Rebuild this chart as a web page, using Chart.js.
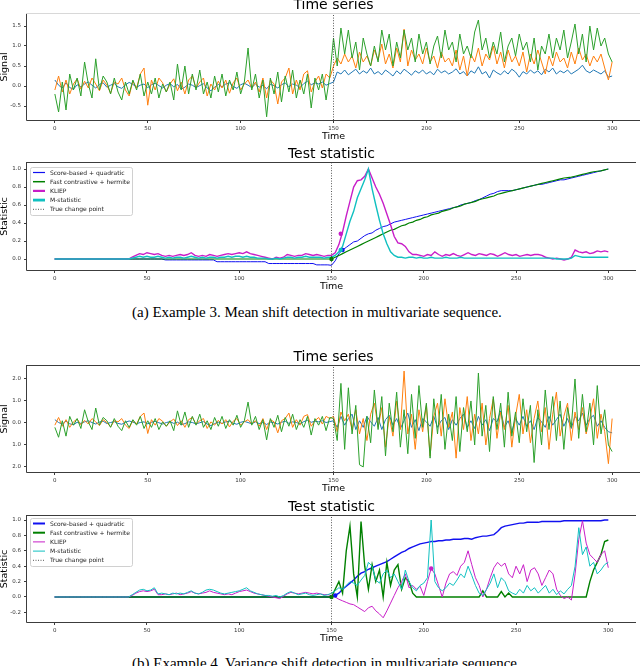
<!DOCTYPE html>
<html>
<head>
<meta charset="utf-8">
<script src="https://cdn.jsdelivr.net/npm/chart.js@4.4.0/dist/chart.umd.min.js"></script>
<style>
  body { margin: 0; width: 640px; height: 666px; overflow: hidden; background: #fff; position: relative; }
  canvas { position: absolute; left: 0; }
  .caption { position: absolute; left: 132px; font-family: "Liberation Serif", "Times New Roman", serif;
             font-size: 15px; line-height: 15px; white-space: nowrap; color: #000; }
</style>
</head>
<body>
<canvas id="meanSignal" width="640" height="150" style="top:-8px"></canvas>
<canvas id="meanStat" width="640" height="151" style="top:141px"></canvas>
<div class="caption" style="top:305px">(a) Example 3. Mean shift detection in multivariate sequence.</div>
<canvas id="varSignal" width="640" height="150" style="top:344px"></canvas>
<canvas id="varStat" width="640" height="150" style="top:494px"></canvas>
<div class="caption" style="top:656px">(b) Example 4. Variance shift detection in multivariate sequence.</div>
<script>
// time grid: every 2nd step, 0..300
const times = Array.from({length: 151}, (_, i) => i * 2);
const changePoint = 150;
const timeTicks = [0, 50, 100, 150, 200, 250, 300];
const signalTicksA = [-0.5, 0, 0.5, 1, 1.5];
const statTicksA = [0, 0.2, 0.4, 0.6, 0.8, 1];
const signalTicksB = [-2, -1, 0, 1, 2];
const statTicksB = [-0.2, 0, 0.2, 0.4, 0.6, 0.8, 1];

// signals before the change (t = 0..148), same in both examples
const blue0 = [0.15,0.02,-0.05,0.08,-0.04,-0.08,0.03,-0.02,0.05,0.1,
  0.02,-0.05,0.04,0.08,-0.03,0.02,0.06,-0.02,-0.06,0.03,
  0.09,0.04,-0.03,0.02,0.05,-0.04,0.03,0.07,0.01,-0.05,
  0.02,0.06,-0.02,0.04,-0.08,-0.03,0.05,0.02,-0.04,0.01,
  0.06,-0.05,-0.12,-0.03,0.04,-0.02,0.05,0.08,-0.01,-0.06,
  0.03,0.07,0.02,-0.04,0.05,-0.03,0.02,-0.07,0.04,0.01,
  -0.05,0.03,0.08,-0.02,0.05,0.02,-0.04,0.06,0.12,0.03,
  0.08,0.05,0.1,0.02,0.06];
const orange0 = [-0.1,0.25,-0.15,0.15,-0.2,0.05,0.18,-0.08,0.12,-0.05,
  0.2,0.05,-0.12,0.15,0.02,-0.18,0.1,0.05,0.2,-0.1,
  -0.25,0.12,-0.05,0.3,0.45,-0.48,0.15,-0.1,0.2,0.08,
  -0.15,0.05,0.18,-0.12,0.1,-0.2,0.15,0.25,-0.05,0.1,
  0.2,-0.25,0.05,-0.1,0.12,-0.05,0.15,-0.18,0.08,0.2,
  -0.1,0.05,0.15,-0.05,0.1,-0.15,0.2,-0.3,0.15,0.05,
  -0.45,0.1,0.2,0.45,-0.2,0.15,-0.1,0.3,0.38,-0.15,
  0.1,0.25,-0.05,0.3,0.2];
const green0 = [-0.2,-0.65,0.1,-0.6,0.3,-0.1,0.2,-0.25,0.6,0.05,
  -0.3,0.68,-0.1,0.25,0.1,-0.2,0.2,-0.15,-0.35,0.1,
  -0.2,0.15,-0.1,0.3,-0.25,0.1,-0.2,0.2,-0.3,0.05,
  -0.15,0.1,-0.35,0.55,-0.1,0.5,-0.2,0.3,-0.1,0.4,
  -0.2,0.1,-0.3,0.25,-0.15,0.3,-0.25,0.15,-0.1,0.35,
  -0.2,0.1,0.95,-0.1,0.3,-0.3,0.15,-0.77,0.2,-0.2,
  0.35,-0.4,0.25,-0.15,0.4,-0.3,0.15,-0.2,0.3,-0.55,
  0.2,-0.1,0.3,-0.35,0.25];

// example 3 (mean shift), t = 150..300
const meanBluePost = [0.1,0.35,0.3,0.4,0.28,0.35,0.42,0.3,0.38,0.32,
  0.45,0.3,0.36,0.28,0.4,0.33,0.25,0.38,0.3,0.42,
  0.35,0.27,0.38,0.32,0.4,0.3,0.36,0.28,0.42,0.33,
  0.38,0.3,0.35,0.43,0.3,0.36,0.25,0.38,0.32,0.48,
  0.3,0.36,0.2,0.4,0.33,0.28,0.38,0.3,0.42,0.35,
  0.22,0.36,0.3,0.4,0.32,0.38,0.28,0.42,0.35,0.45,
  0.3,0.38,0.33,0.4,0.3,0.36,0.42,0.52,0.38,0.33,
  0.4,0.35,0.3,0.38,0.22,0.25];
const meanOrangePost = [0.5,0.7,0.55,0.8,0.6,0.75,0.45,0.85,0.6,0.75,
  0.5,0.9,0.65,1.05,0.55,0.8,0.45,0.95,0.6,1.42,
  0.5,0.9,0.65,0.8,0.55,0.95,0.6,0.75,0.45,0.85,
  0.6,0.7,0.5,0.9,0.4,0.75,0.25,0.8,0.6,0.95,
  0.5,0.8,0.65,1.0,0.55,0.85,0.45,0.9,0.6,0.75,
  0.5,0.85,0.35,0.8,0.55,0.9,0.6,0.3,0.75,0.5,
  0.85,0.6,0.7,0.45,0.85,0.55,0.95,0.65,0.8,0.5,
  0.75,0.6,0.8,0.45,0.15,0.6];
const meanGreenPost = [1.2,0.5,1.45,0.8,1.4,0.7,1.1,0.4,1.2,0.8,
  0.5,1.0,0.6,1.4,0.9,1.3,0.5,1.1,0.7,1.4,
  0.9,1.2,0.6,1.3,0.8,1.1,0.55,1.0,1.25,0.7,
  1.4,0.9,1.1,0.6,1.3,0.8,1.0,0.7,1.35,1.65,
  0.9,1.2,0.7,1.1,0.8,1.35,0.6,1.0,1.2,0.75,
  1.3,0.9,1.1,0.6,1.2,0.4,1.0,0.8,1.3,0.7,
  1.2,0.9,1.4,0.7,1.1,1.55,0.8,1.3,0.6,1.5,
  0.9,1.45,1.0,1.2,0.8,0.6];

// example 4 (variance shift), t = 150..300
const varBluePost = [0.1,-0.2,0.3,-0.1,0.2,0.4,-0.3,0.1,-0.2,0.3,
  0.05,-0.15,0.25,-0.3,0.15,0.35,-0.1,0.2,-0.25,0.1,
  0.45,-0.2,0.15,-0.35,0.2,0.05,-0.15,0.3,-0.2,0.1,
  0.25,-0.3,0.15,-0.1,0.2,0.4,-0.2,0.1,-0.25,0.3,
  -0.1,0.15,-0.35,0.2,0.05,0.55,-0.2,0.1,-0.4,0.2,
  -0.1,0.3,-0.15,0.1,-0.3,0.25,0.05,-0.2,0.3,-0.1,
  0.15,0.4,-0.15,0.2,-0.25,0.3,0.1,0.45,-0.1,0.2,
  0.35,-0.15,0.1,-0.2,-0.4,-0.45];
const varOrangePost = [0.3,-0.4,0.5,0.1,0.4,-0.3,0.6,-0.5,0.2,-0.8,
  0.4,0.9,-0.2,0.7,-1.1,0.3,-0.6,1.0,-0.3,2.36,
  -0.5,0.4,-1.2,0.6,-0.4,0.8,-1.5,0.3,0.9,-0.6,
  1.1,-0.2,0.5,-1.6,0.7,-0.3,1.2,-0.8,0.4,-0.5,
  0.9,-1.0,0.2,1.1,-0.7,0.5,-0.3,0.8,-1.1,0.3,
  1.3,-0.5,0.6,-0.9,0.2,1.0,-0.4,0.7,-1.2,0.4,
  1.4,-0.6,0.3,0.9,-0.8,0.5,-0.3,0.7,-0.5,0.2,
  1.1,-0.7,0.4,-0.4,-1.85,0.2];
const varGreenPost = [0.2,-0.8,1.8,-1.2,1.6,-0.5,0.8,-1.9,-2.0,0.3,
  -0.9,1.5,-0.3,1.2,-1.5,0.9,-0.4,1.4,-1.1,0.6,
  -1.4,1.3,-0.7,1.7,-0.2,0.9,-1.6,1.1,-0.5,1.3,
  -1.2,0.4,-0.8,1.2,-1.3,0.7,-0.4,1.0,-1.0,2.27,
  -0.6,0.8,-1.3,1.2,-0.3,0.9,-1.1,1.4,-0.6,0.5,
  -0.9,1.1,-0.4,0.8,-1.8,0.6,-1.0,1.5,-0.3,1.2,
  -0.8,1.0,-1.2,0.7,-0.2,2.0,-0.7,1.3,-0.4,0.9,
  -1.0,1.7,-0.5,0.6,-1.0,-1.3];

// test statistics, example 3 (t = 0..300)
const scoreA = [0,0,0,0,0,0,0,0,0,0, 0,0,0,0,0,0,0,0,0,0, 0,0,0,0,0,0,0,0,0,0,
  -0.01,-0.01,-0.01,-0.01,-0.01,-0.01,-0.01,-0.01,-0.01,-0.01,-0.01,-0.01,-0.01,-0.01,
  -0.03,-0.03,-0.03,-0.03,-0.03,-0.03,-0.03,-0.03,-0.03,-0.03,-0.03,-0.03,-0.03,-0.03,
  -0.05,-0.05,-0.05,-0.05,-0.05,-0.05,-0.05,-0.05,-0.05,-0.05,-0.05,-0.05,-0.05,
  -0.065,-0.065,-0.065,-0.065,
  -0.07,-0.02,0.06,0.1,0.13,0.16,0.19,0.2,0.23,0.26,
  0.28,0.29,0.32,0.34,0.36,0.37,0.39,0.41,0.42,0.43,
  0.44,0.45,0.46,0.47,0.48,0.49,0.5,0.51,0.52,0.53,
  0.54,0.55,0.56,0.57,0.58,0.6,0.61,0.62,0.63,0.65,
  0.66,0.68,0.7,0.72,0.73,0.75,0.76,0.76,0.76,0.76,
  0.77,0.78,0.79,0.8,0.81,0.82,0.83,0.83,0.84,0.85,
  0.86,0.87,0.88,0.88,0.89,0.9,0.91,0.92,0.93,0.94,
  0.95,0.96,0.97,0.98,0.99,1.0];
const contrastA = [0,0,0,0,0,0,0,0,0,0, 0,0,0,0,0,0,0,0,0,0, 0,0,0,0,0,0,0,0,0,0,
  0,0,0,0,0,0,0,0,0,0, 0,0,0,0,0,0,0,0,0,0, 0,0,0,0,0,0,0,0,0,0, 0,0,0,0,0,0,0,0,0,0, 0,0,0,0,0,
  0,0.02,0.04,0.06,0.08,0.1,0.12,0.14,0.16,0.18,
  0.2,0.22,0.24,0.26,0.28,0.3,0.32,0.33,0.35,0.37,
  0.38,0.4,0.41,0.43,0.44,0.46,0.47,0.49,0.5,0.51,
  0.53,0.54,0.55,0.57,0.58,0.59,0.61,0.62,0.63,0.64,
  0.66,0.67,0.68,0.69,0.7,0.72,0.73,0.74,0.75,0.76,
  0.77,0.78,0.79,0.8,0.81,0.82,0.83,0.84,0.85,0.86,
  0.87,0.88,0.89,0.9,0.905,0.91,0.92,0.93,0.94,0.95,
  0.96,0.97,0.975,0.98,0.99,1.0];
const kliepA = [0,0,0,0,0,0,0,0,0,0, 0,0,0,0,0,0,0,0,0,0, 0,
  0.02,0.04,0.06,0.05,0.07,0.06,0.05,0.06,0.04,0.03,
  0.04,0.03,0.04,0.05,0.04,0.05,0.07,0.04,0.03,0.04,
  0.03,0.05,0.04,0.03,0.04,0.05,0.06,0.05,0.06,0.07,
  0.06,0.08,0.06,0.05,0.04,0.03,0.02,0.01,0,0.02,
  0.01,0.02,0.05,0.04,0.03,0.04,0.04,0.06,0.05,0.04,
  0.05,0.04,0.03,0.04,
  0.04,0.07,0.16,0.3,0.48,0.64,0.8,0.87,0.88,0.92,
  1.0,0.9,0.8,0.72,0.62,0.5,0.38,0.25,0.18,0.17,
  0.14,0.08,0.05,0.05,0.04,0.03,0.05,0.04,0.08,0.05,
  0.03,0.05,0.04,0.06,0.04,0.03,0.05,0.07,0.05,0.04,
  0.06,0.05,0.04,0.06,0.05,0.03,0.05,0.07,0.05,0.04,
  0.05,0.03,0.04,0.05,0.04,0.05,0.05,0.04,0.02,0.01,
  0,0.01,0,-0.01,0,0.02,0.1,0.08,0.07,0.08,
  0.06,0.07,0.09,0.08,0.09,0.08];
const mstatA = [0,0,0,0,0,0,0,0,0,0, 0,0,0,0,0,0,0,0,0,0, 0,
  0.01,0.02,0.03,0.02,0.03,0.02,0.02,0.03,0.02,0.01,
  0.02,0.01,0.02,0.02,0.01,0.02,0.03,0.02,0.01,0.02,
  0.01,0.02,0.02,0.01,0.02,0.02,0.03,0.02,0.03,0.03,
  0.02,0.03,0.02,0.02,0.01,0.01,0.01,0,0,0.01,
  0,0.01,0.02,0.02,0.01,0.02,0.02,0.03,0.02,0.02,
  0.02,0.02,0.01,0.02,
  0.02,0.04,0.08,0.14,0.28,0.42,0.53,0.68,0.78,0.88,
  1.0,0.78,0.6,0.43,0.28,0.17,0.08,0.04,0.02,0.02,
  0.01,0.02,0.02,0.01,0.02,0.01,0.01,0.02,0.01,0.01,
  0.01,0.02,0.01,0.01,0.01,0.02,0.01,0.01,0.01,0.01,
  0.01,0.01,0.01,0.01,0.01,0.01,0.01,0.01,0.01,0.01,
  0.01,0.01,0.01,0.01,0.01,0.01,0.01,0.01,0.01,0.01,
  0.01,0,0,0,0,0.01,0.04,0.03,0.02,0.02,
  0.02,0.02,0.02,0.02,0.02,0.02];

// test statistics, example 4
const scoreB = [0,0,0,0,0,0,0,0,0,0, 0,0,0,0,0,0,0,0,0,0, 0,0,0,0,0,0,0,0,0,0,
  0,0,0,0,0,0,0,0,0,0, 0,0,0,0,0,0,0,0,0,0, 0,0,0,0,0,0,0,0,0,0, 0,0,0,0,0,0,0,0,0,0, 0,0,0,0,0,
  0,0.02,0.05,0.1,0.14,0.18,0.22,0.27,0.31,0.33,
  0.36,0.38,0.4,0.42,0.44,0.46,0.49,0.52,0.55,0.58,
  0.6,0.63,0.65,0.67,0.69,0.7,0.71,0.72,0.72,0.73,
  0.73,0.74,0.74,0.75,0.75,0.75,0.76,0.76,0.75,0.77,
  0.78,0.79,0.79,0.8,0.81,0.85,0.9,0.92,0.93,0.94,
  0.95,0.96,0.96,0.97,0.97,0.97,0.97,0.98,0.98,0.98,
  0.98,0.98,0.98,0.99,0.99,0.99,0.99,0.99,0.99,0.99,
  0.99,0.99,0.99,0.99,1.0,1.0];
const contrastB = [0,0,0,0,0,0,0,0,0,0, 0,0,0,0,0,0,0,0,0,0, 0,0,0,0,0,0,0,0,0,0,
  0,0,0,0,0,0,0,0,0,0, 0,0,0,0,0,0,0,0,0,0, 0,0,0,0,0,0,0,0,0,0, 0,0,0,0,0,0,0,0,0,0, 0,0,0,0,0,
  0,0.1,0.2,0.05,0.6,0.92,0.3,0,0.98,0.4,
  0.1,0.42,0.2,0.35,0,0.45,0.15,0.35,0.42,0.1,
  0.25,0.2,0.05,0,0,0,0,0,0,0,
  0,0,0,0,0,0,0,0,0,0,
  0,0.08,0,0,0,0,0.07,0,0.05,0,
  0,0,0,0,0,0,0,0,0,0,
  0,0,0,0,0,0,0,0,0,0,
  0.2,0.35,0.45,0.55,0.72,0.74];
const kliepB = [0,0,0,0,0,0,0,0,0,0, 0,0,0,0,0,0,0,0,0,0, 0,
  0.02,0.05,0.07,0.08,0.07,0.08,0.1,0.03,0.03,0.04,
  0.03,0.04,0.05,0.03,0.04,0.05,0.07,0.05,0.04,0.05,
  0.06,0.08,0.06,0.05,0.04,0.03,0.04,0.03,0.05,0.07,
  0.08,0.09,0.07,0.05,0.04,0.03,0.02,0.01,0,-0.01,
  -0.02,0.01,0.04,0.06,0.05,0.04,0.05,0.06,0.05,0.04,
  0.05,0.04,0.03,0.03,
  0.02,0,-0.03,-0.05,-0.07,-0.09,-0.1,-0.13,-0.16,-0.19,
  -0.14,-0.12,-0.18,-0.22,-0.27,-0.18,-0.08,0.02,0.12,0.2,
  0.3,0.12,0.15,0.1,0.14,0.02,0.2,0.37,0.3,0.15,
  0,0.18,0.3,0.33,0.28,0.4,0.45,0.6,0.42,0.25,
  0.15,0,0.1,0.25,0.38,0.45,0.4,0.44,0.3,0.25,
  0.4,0.3,0.42,0.2,0.35,0.38,0.3,0.15,0.25,0.35,
  0.3,0.1,0.02,-0.02,0,-0.04,0.3,0.75,0.99,0.7,
  0.55,0.5,0.45,0.55,0.6,0.38];
const mstatB = [0,0,0,0,0,0,0,0,0,0, 0,0,0,0,0,0,0,0,0,0, 0,
  0.03,0.06,0.09,0.1,0.08,0.09,0.12,0.04,0.05,0.04,
  0.03,0.05,0.04,0.05,0.04,0.06,0.08,0.05,0.04,0.06,
  0.09,0.1,0.09,0.07,0.05,0.04,0.05,0.06,0.07,0.08,
  0.1,0.12,0.08,0.06,0.04,0.03,0.02,0.02,0.01,0.02,
  0,0.02,0.05,0.07,0.05,0.03,0.04,0.05,0.03,0.02,
  0.03,0.04,0.02,0.03,
  0.05,0.08,0.12,0.1,0.15,0.2,0.18,0.15,0.22,0.28,
  0.45,0.4,0.22,0.18,0.3,0.35,0.25,0.3,0.2,0.1,
  0.35,0.2,0.12,0.08,0.15,0.18,0.25,1.0,0.2,0.12,
  0.08,0.12,0.18,0.15,0.22,0.3,0.25,0.4,0.28,0.15,
  0.05,0.02,0.1,0.18,0.3,0.12,0.25,0.2,0.08,0.05,
  0.03,0.1,0.05,0.15,0.08,0.12,0.05,0.1,0.15,0.05,
  0.1,0.03,0.08,0.04,0.1,0.15,0.4,0.9,0.55,0.65,
  0.4,0.45,0.3,0.35,0.42,0.45];

// detected change points: score, contrast, kliep, mstat
const detectTimeA = [156, 150, 155, 155];
const detectValA = [0.1, 0.0, 0.28, 0.1];
const detectTimeB = [152, 150, 204];
const detectValB = [0.02, 0.0, 0.37];

const methodNames = ['Score-based + quadratic', 'Fast contrastive + hermite', 'KLIEP', 'M-statistic'];
const methodColors = ['#1010f0', '#008000', '#c81ec8', '#10c0c0'];
const seriesColors = ['#1f77b4', '#ff7f0e', '#2ca02c'];

Chart.defaults.font.family = 'DejaVu Sans';
Chart.defaults.color = '#222';

const pts = vals => vals.map((v, i) => ({x: times[i], y: v}));

function changeLine(yMin, yMax) {
  return {
    label: 'True change point',
    data: [{x: changePoint, y: yMin}, {x: changePoint, y: yMax}],
    borderColor: '#444', borderWidth: 0.9, borderDash: [1, 1.6], pointRadius: 0
  };
}

function framePlugin(topColor) {
  return {
    id: 'frame',
    afterDatasetsDraw(chart) {
      const {ctx, chartArea: a} = chart;
      ctx.save();
      ctx.lineWidth = 1;
      ctx.strokeStyle = '#3c3c3c';
      ctx.beginPath();
      ctx.moveTo(a.left - 0.5, a.top);
      ctx.lineTo(a.left - 0.5, a.bottom + 0.5);
      ctx.lineTo(a.right, a.bottom + 0.5);
      ctx.stroke();
      ctx.strokeStyle = topColor;
      ctx.beginPath();
      ctx.moveTo(a.left - 1, a.top - 0.5);
      ctx.lineTo(a.right, a.top - 0.5);
      ctx.stroke();
      ctx.restore();
    }
  };
}

function legendPlugin(items, dy) {
  return {
    id: 'boxLegend',
    afterDatasetsDraw(chart) {
      const {ctx, chartArea: a} = chart;
      const x0 = a.left + 3, y0 = a.top + dy, w = 102, h = 48;
      ctx.save();
      ctx.fillStyle = 'rgba(255,255,255,0.85)';
      ctx.strokeStyle = '#d0d0d0';
      ctx.lineWidth = 1;
      ctx.beginPath();
      ctx.roundRect(x0 + 0.5, y0 + 0.5, w, h, 2);
      ctx.fill();
      ctx.stroke();
      ctx.font = '6px "DejaVu Sans"';
      ctx.textBaseline = 'middle';
      items.forEach((it, i) => {
        const y = y0 + 5.5 + i * 9.2;
        ctx.strokeStyle = it.color;
        ctx.lineWidth = it.width;
        ctx.setLineDash(it.dash || []);
        ctx.beginPath();
        ctx.moveTo(x0 + 3, y);
        ctx.lineTo(x0 + 15, y);
        ctx.stroke();
        ctx.setLineDash([]);
        ctx.fillStyle = '#222';
        ctx.fillText(it.label, x0 + 20, y + 0.5);
      });
      ctx.restore();
    }
  };
}

function makeChart(id, title, yTitle, yMin, yMax, yTicks, yFmt, datasets, plugins) {
  datasets.forEach((d, i) => {
    d.order = datasets.length - i;
    d.pointRadius = d.pointRadius || 0;
    d.tension = 0;
    d.fill = false;
  });
  const tickFont = {size: 5.5, family: 'DejaVu Sans'};
  const grid = {drawOnChartArea: false, drawTicks: true, tickLength: 3, color: '#3c3c3c', tickColor: '#3c3c3c'};
  return new Chart(document.getElementById(id), {
    type: 'line',
    data: {datasets},
    options: {
      responsive: false,
      animation: false,
      events: [],
      layout: {padding: 0},
      plugins: {
        legend: {display: false},
        tooltip: {enabled: false},
        title: {display: true, text: title, fullSize: false, color: '#000',
                font: {size: 14, weight: 'normal', lineHeight: '17px'}, padding: {top: 5, bottom: 0}}
      },
      scales: {
        x: {
          type: 'linear', min: -15, max: 315,
          afterFit: s => { s.height = 22; },
          afterBuildTicks: s => { s.ticks = timeTicks.map(v => ({value: v})); },
          ticks: {font: tickFont, color: '#333', padding: 2, maxRotation: 0, autoSkip: false, callback: v => String(v)},
          grid, border: {display: false},
          title: {display: true, text: 'Time', color: '#000', padding: 0, font: {size: 9.5, lineHeight: 1.2}}
        },
        y: {
          min: yMin, max: yMax,
          afterFit: s => { s.width = 27; },
          afterBuildTicks: s => { s.ticks = yTicks.map(v => ({value: v})); },
          ticks: {font: tickFont, color: '#333', padding: 3, callback: yFmt},
          grid, border: {display: false},
          title: {display: true, text: yTitle, color: '#000', padding: 0, font: {size: 9.5, lineHeight: 1}}
        }
      }
    },
    plugins
  });
}

function signalSets(blue, orange, green, yMin, yMax) {
  return [blue, orange, green].map((vals, i) => ({
    data: pts(vals), borderColor: seriesColors[i], borderWidth: 1
  })).concat([changeLine(yMin, yMax)]);
}

function statSets(series, widths, detT, detV, yMin, yMax) {
  const lines = series.map((vals, i) => ({
    label: methodNames[i], data: pts(vals), borderColor: methodColors[i], borderWidth: widths[i]
  }));
  const dots = detT.map((t, i) => ({
    data: [{x: t, y: detV[i]}], showLine: false, pointRadius: 2.2,
    pointBackgroundColor: methodColors[i], pointBorderWidth: 0, borderColor: methodColors[i]
  }));
  return lines.concat(dots, [changeLine(yMin, yMax)]);
}

function legendItems(widths) {
  return methodNames.map((n, i) => ({label: n, color: methodColors[i], width: widths[i]}))
    .concat([{label: 'True change point', color: '#555', width: 1, dash: [1, 1.5]}]);
}

const fmt1 = v => v.toFixed(1);
const fmtAbs = v => Math.abs(v).toFixed(1);

// (a) mean shift
makeChart('meanSignal', 'Time series', 'Signal', -0.85, 1.8, signalTicksA, fmt1,
  signalSets(blue0.concat(meanBluePost), orange0.concat(meanOrangePost), green0.concat(meanGreenPost), -0.85, 1.8),
  [framePlugin('#d8d8d8')]);

const widthsA = [1, 1.2, 1.4, 1.4];
makeChart('meanStat', 'Test statistic', 'Statistic', -0.122, 1.067, statTicksA, fmt1,
  statSets([scoreA, contrastA, kliepA, mstatA], widthsA, detectTimeA, detectValA, -0.122, 1.067),
  [framePlugin('#3c3c3c'), legendPlugin(legendItems([1.2, 1.5, 2.2, 2.8]), 4)]);

// (b) variance shift
makeChart('varSignal', 'Time series', 'Signal', -2.23, 2.59, signalTicksB, fmtAbs,
  signalSets(blue0.concat(varBluePost), orange0.concat(varOrangePost), green0.concat(varGreenPost), -2.23, 2.59),
  [framePlugin('#3c3c3c')]);

const widthsB = [1.4, 1.4, 1, 1];
makeChart('varStat', 'Test statistic', 'Statistic', -0.325, 1.052, statTicksB, fmt1,
  statSets([scoreB, contrastB, kliepB, mstatB], widthsB, detectTimeB, detectValB, -0.325, 1.052),
  [framePlugin('#3c3c3c'), legendPlugin(legendItems([2, 2, 1, 1]), 2)]);
</script>
</body>
</html>
